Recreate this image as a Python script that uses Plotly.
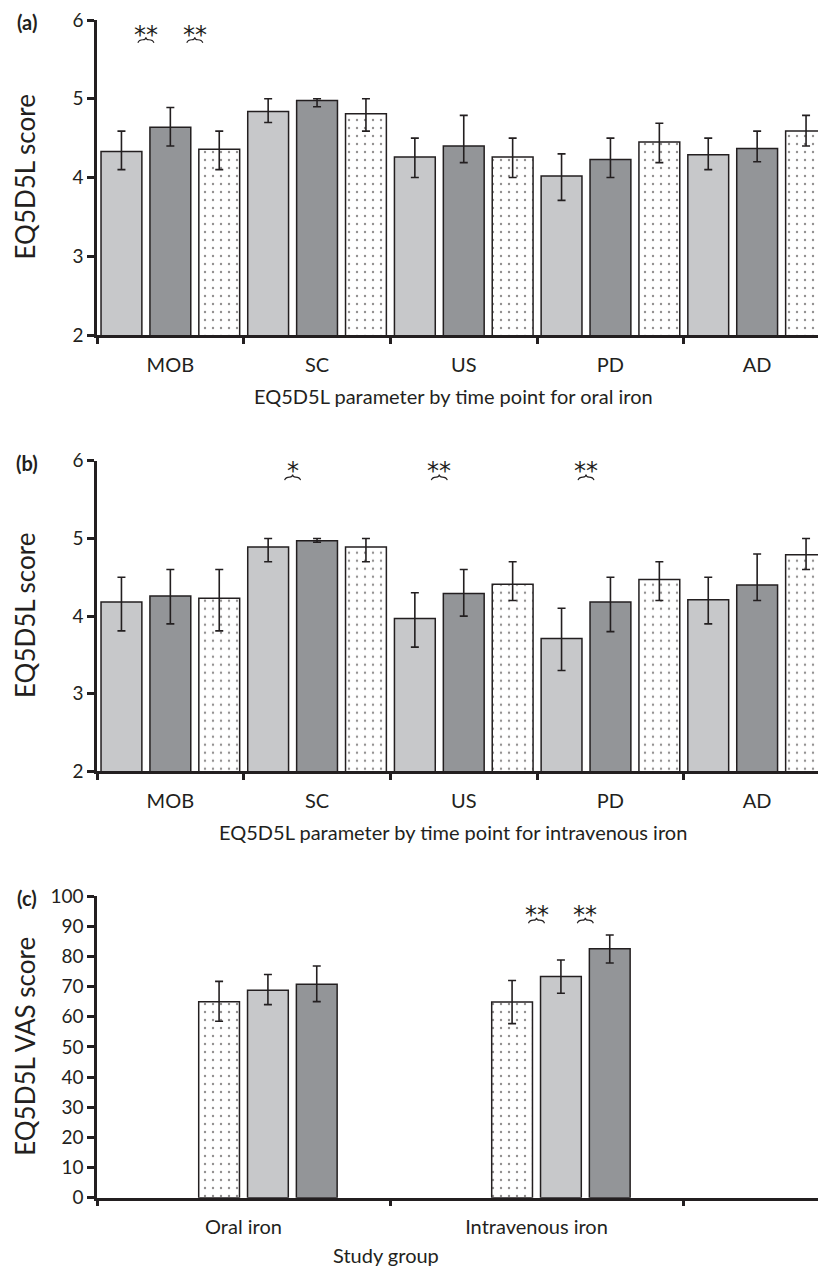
import plotly.graph_objects as go

# ---------------- data ----------------
params = ["MOB", "SC", "US", "PD", "AD"]

# (a) oral iron: three time points (light grey, dark grey, dotted)
a_light = [4.33, 4.84, 4.26, 4.02, 4.29]
a_light_hi = [4.59, 5.00, 4.50, 4.30, 4.50]
a_light_lo = [4.10, 4.70, 4.00, 3.71, 4.10]
a_dark = [4.64, 4.98, 4.40, 4.23, 4.37]
a_dark_hi = [4.89, 5.00, 4.79, 4.50, 4.59]
a_dark_lo = [4.40, 4.90, 4.19, 4.00, 4.20]
a_dot = [4.36, 4.81, 4.26, 4.45, 4.59]
a_dot_hi = [4.59, 5.00, 4.50, 4.69, 4.79]
a_dot_lo = [4.10, 4.59, 4.00, 4.19, 4.40]

# (b) intravenous iron
b_light = [4.18, 4.89, 3.97, 3.71, 4.21]
b_light_hi = [4.50, 5.00, 4.30, 4.10, 4.50]
b_light_lo = [3.81, 4.70, 3.60, 3.30, 3.90]
b_dark = [4.26, 4.97, 4.29, 4.18, 4.40]
b_dark_hi = [4.60, 5.00, 4.60, 4.50, 4.80]
b_dark_lo = [3.90, 4.95, 4.00, 3.80, 4.20]
b_dot = [4.23, 4.89, 4.41, 4.47, 4.79]
b_dot_hi = [4.60, 5.00, 4.70, 4.70, 5.00]
b_dot_lo = [3.81, 4.70, 4.20, 4.20, 4.60]

# (c) VAS score by study group
groups = ["Oral iron", "Intravenous iron"]
c_dot = [65.0, 64.9]
c_dot_hi = [71.7, 72.0]
c_dot_lo = [58.5, 57.7]
c_light = [68.8, 73.3]
c_light_hi = [74.0, 78.8]
c_light_lo = [64.0, 67.8]
c_dark = [70.8, 82.5]
c_dark_hi = [76.8, 87.1]
c_dark_lo = [65.0, 77.8]

# significance markers: (category index, bar pair index, text)
sig_a = [(0, 0, "**"), (0, 1, "**")]
sig_b = [(1, 0, "*"), (2, 0, "**"), (3, 0, "**")]
sig_c = [(1, 0, "**"), (1, 1, "**")]

# ---------------- styling ----------------
# the page body has an 8px default margin, so the figure is drawn 8px smaller
OFF = 8
W, H = 826 - OFF, 1268 - OFF
INK = "#231f20"
LIGHT = "#c7c8ca"
DARK = "#939598"
FONT = "Lato"


def px_x(x):
    return (x - OFF) / W


def px_y(y):
    return 1 - (y - OFF) / H


def ydom(top, bottom):
    return [px_y(bottom), px_y(top)]


XDOM = [px_x(97), 1.0]
DOM_A = ydom(20, 335)
DOM_B = ydom(460.7, 771.4)
DOM_C = ydom(896, 1197.7)


def err(mean, hi, lo):
    return dict(type="data", symmetric=False,
                array=[h - m for h, m in zip(hi, mean)],
                arrayminus=[m - l for m, l in zip(mean, lo)],
                color=INK, thickness=1.6, width=4)


def bar(x, y, hi, lo, kind, xa, ya, **kw):
    if kind == "dot":
        marker = dict(color="white",
                      pattern=dict(shape=".", fgcolor=INK, bgcolor="white",
                                   size=8, solidity=0.07, fillmode="overlay"),
                      line=dict(color=INK, width=1.5))
    else:
        marker = dict(color=LIGHT if kind == "light" else DARK,
                      line=dict(color=INK, width=1.5))
    return go.Bar(x=x, y=y, marker=marker, error_y=err(y, hi, lo),
                  xaxis=xa, yaxis=ya, showlegend=False, hoverinfo="skip", **kw)


fig = go.Figure()

# panel (a)
fig.add_trace(bar(params, a_light, a_light_hi, a_light_lo, "light", "x", "y"))
fig.add_trace(bar(params, a_dark, a_dark_hi, a_dark_lo, "dark", "x", "y"))
fig.add_trace(bar(params, a_dot, a_dot_hi, a_dot_lo, "dot", "x", "y"))
# panel (b)
fig.add_trace(bar(params, b_light, b_light_hi, b_light_lo, "light", "x2", "y2"))
fig.add_trace(bar(params, b_dark, b_dark_hi, b_dark_lo, "dark", "x2", "y2"))
fig.add_trace(bar(params, b_dot, b_dot_hi, b_dot_lo, "dot", "x2", "y2"))
# panel (c): six slots per group, bars in slots 3, 4, 5 (of 1..6)
slot = 1 / 6
bw = slot * (1 - 0.165)
for k, (vals, hi, lo, kind) in enumerate([(c_dot, c_dot_hi, c_dot_lo, "dot"),
                                          (c_light, c_light_hi, c_light_lo, "light"),
                                          (c_dark, c_dark_hi, c_dark_lo, "dark")]):
    center = -0.5 + slot * (2 + k) + slot / 2
    fig.add_trace(bar(groups, vals, hi, lo, kind, "x3", "y3",
                      width=[bw] * len(groups),
                      offset=[center - bw / 2] * len(groups)))

axis_common = dict(showline=True, linecolor=INK, linewidth=2.5, ticks="outside",
                   tickcolor=INK, tickwidth=2.5, showgrid=False, zeroline=False,
                   automargin=False, ticklabeloverflow="allow",
                   tickfont=dict(family=FONT, size=19, color=INK))

xcat = dict(axis_common, type="category", tickson="boundaries", ticklen=6,
            ticklabelstandoff=10, tickfont=dict(family=FONT, size=20, color=INK))

# x range: axis extends to the right edge of the picture
xr5 = -0.5 + (826 - 97) / 146.7
xr2 = -0.5 + (826 - 97) / 293.0

fig.update_layout(
    width=W, height=H, margin=dict(l=0, r=0, t=0, b=0, autoexpand=False),
    paper_bgcolor="white", plot_bgcolor="white",
    barmode="group", bargap=0.0, bargroupgap=0.165,
    xaxis=dict(xcat, domain=XDOM, anchor="y", range=[-0.5, xr5]),
    yaxis=dict(axis_common, domain=DOM_A, anchor="x", range=[2, 6.001],
               tickvals=[2, 3, 4, 5, 6], ticklen=7),
    xaxis2=dict(xcat, domain=XDOM, anchor="y2", range=[-0.5, xr5]),
    yaxis2=dict(axis_common, domain=DOM_B, anchor="x2", range=[2, 6.001],
                tickvals=[2, 3, 4, 5, 6], ticklen=7),
    xaxis3=dict(xcat, domain=XDOM, anchor="y3", range=[-0.5, xr2]),
    yaxis3=dict(axis_common, domain=DOM_C, anchor="x3", range=[0, 100.02], dtick=10, ticklen=7),
)

ann = []
shapes = []
# panel labels
for lab, ypx in [("(a)", 22), ("(b)", 463), ("(c)", 898)]:
    ann.append(dict(text="<b>%s</b>" % lab, x=px_x(27), y=px_y(ypx), xref="paper", yref="paper",
                    xanchor="center", yanchor="middle", showarrow=False,
                    font=dict(family=FONT, size=20, color=INK)))
# y titles
for t, dom in [("EQ5D5L score", DOM_A), ("EQ5D5L score", DOM_B), ("EQ5D5L VAS score", DOM_C)]:
    ann.append(dict(text=t, textangle=-90, x=px_x(25), y=(dom[0] + dom[1]) / 2,
                    xref="paper", yref="paper", xanchor="center", yanchor="middle",
                    showarrow=False, font=dict(family=FONT, size=26, color=INK)))
# x titles
for t, xpx, ypx in [("EQ5D5L parameter by time point for oral iron", 453, 396),
                    ("EQ5D5L parameter by time point for intravenous iron", 453, 832),
                    ("Study group", 386, 1255)]:
    ann.append(dict(text=t, x=px_x(xpx), y=px_y(ypx), xref="paper", yref="paper",
                    xanchor="center", yanchor="middle", showarrow=False,
                    font=dict(family=FONT, size=20, color=INK)))

# small brace under the stars (pixel-sized path anchored at the marker position)
BRACE = "M-8,-3 Q-7,0 -3,0 Q0,0 0,2.5 Q0,0 3,0 Q7,0 8,-3"


def add_sig(sigs, xa, ya, pos_fn, ystar, ybr):
    for cat, pair, txt in sigs:
        xv = pos_fn(cat, pair)
        ann.append(dict(text=txt, x=xv, y=ystar, xref=xa, yref=ya, xanchor="center",
                        yanchor="middle", showarrow=False,
                        font=dict(family="DejaVu Sans", size=24, color=INK)))
        shapes.append(dict(type="path", xref=xa, yref=ya, xsizemode="pixel",
                           ysizemode="pixel", xanchor=xv, yanchor=ybr, path=BRACE,
                           line=dict(color=INK, width=1.2)))


add_sig(sig_a, "x", "y", lambda c, p: c - 1 / 6 + p / 3, 5.81, 5.75)
add_sig(sig_b, "x2", "y2", lambda c, p: c - 1 / 6 + p / 3, 5.867, 5.79)
add_sig(sig_c, "x3", "y3", lambda c, p: c + p / 6, 93.7, 92.0)

fig.update_layout(annotations=ann, shapes=shapes)
fig.write_html("out.html")
